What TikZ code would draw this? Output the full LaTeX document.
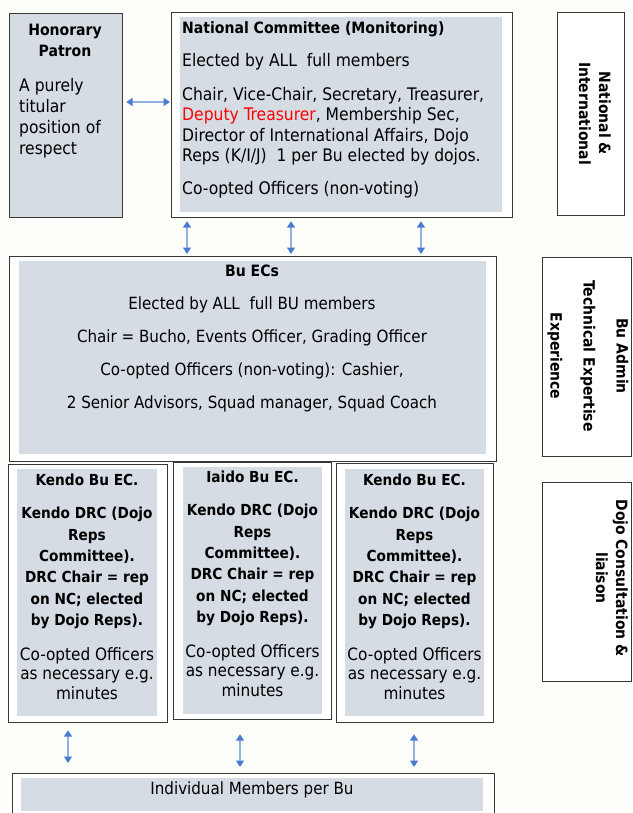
\documentclass[tikz,border=0pt]{standalone}
\usepackage{fontspec}
\setmainfont{DejaVu Sans Condensed}
\usetikzlibrary{arrows.meta}
\definecolor{boxgray}{HTML}{D5DCE4}
\definecolor{edgecol}{HTML}{383838}
\definecolor{arrowblue}{HTML}{4A7BD0}
\definecolor{pagebg}{HTML}{FDFDFA}
\tikzset{
  outerbox/.style={draw=edgecol, line width=1.2pt, fill=white, anchor=north west, inner sep=0pt, rectangle},
  grayfill/.style={fill=boxgray, draw=none, anchor=north west, inner sep=0pt, rectangle},
  txt/.style={inner sep=0pt, text=black, font=\fontsize{17.3}{20.6}\selectfont},
  boldtxt/.style={inner sep=0pt, text=black, font=\bfseries\fontsize{15.6}{21}\selectfont},
  kendotxt/.style={inner sep=0pt, text=black, align=center, anchor=north, font=\bfseries\fontsize{15.2}{21.4}\selectfont},
  kendosmall/.style={inner sep=0pt, text=black, align=center, anchor=north, font=\fontsize{17}{19.8}\selectfont},
  sidetxt/.style={inner sep=0pt, text=black, align=center, rotate=-90, font=\bfseries\fontsize{15.5}{20}\selectfont},
  biarrow/.style={draw=arrowblue!60, line width=1.5pt, {Triangle[width=8pt,length=6.5pt,color=arrowblue]}-{Triangle[width=8pt,length=6.5pt,color=arrowblue]}}
}
\begin{document}
\begin{tikzpicture}[x=1pt,y=-1pt]
\fill[pagebg] (0,0) rectangle (632,813);
\useasboundingbox (0,0) rectangle (632,813);

% ---------- boxes ----------
\node[outerbox, fill=boxgray, minimum width=113.5pt, minimum height=204pt] (patron) at (8.5,13) {};
\node[outerbox, minimum width=340.5pt, minimum height=205pt] (nc) at (171,12) {};
\node[grayfill, minimum width=322pt, minimum height=195pt] (ncfill) at (180,17) {};
\node[outerbox, minimum width=66.5pt, minimum height=203pt] (natint) at (557,12) {};

\node[outerbox, minimum width=487pt, minimum height=205pt] (buec) at (9,256) {};
\node[grayfill, minimum width=467pt, minimum height=193pt] (buecfill) at (19,261) {};
\node[outerbox, minimum width=88.5pt, minimum height=199pt] (buadmin) at (542,257) {};

\node[outerbox, minimum width=159pt, minimum height=258pt] (kendoA) at (8,464) {};
\node[grayfill, minimum width=140pt, minimum height=247pt] (kendoAfill) at (17,469) {};
\node[outerbox, minimum width=158pt, minimum height=257pt] (iaido) at (173,462) {};
\node[grayfill, minimum width=139pt, minimum height=247pt] (iaidofill) at (183,467) {};
\node[outerbox, minimum width=157pt, minimum height=259pt] (kendoB) at (336,463) {};
\node[grayfill, minimum width=139pt, minimum height=247pt] (kendoBfill) at (345,469) {};
\node[outerbox, minimum width=88.5pt, minimum height=199pt] (dojo) at (542,482) {};

\node[outerbox, minimum width=482pt, minimum height=45pt] (indiv) at (12,773) {};
\node[grayfill, minimum width=462pt, minimum height=33pt] (indivfill) at (21,778) {};

% ---------- texts ----------
\node[boldtxt, align=center, anchor=north] (patrontitle) at (65,24) {Honorary\\Patron};
\node[txt, align=left, anchor=north west, font=\fontsize{17.3}{21}\selectfont] (patronbody) at (19,78) {A purely\\titular\\position of\\respect};

\node[txt, align=left, anchor=north west] (nctext) at (182,21)
 {\textbf{\fontsize{15.6}{20.6}\selectfont National Committee (Monitoring)}\\[12.4pt]
  Elected by ALL\ \ full members\\[13.4pt]
  Chair, Vice-Chair, Secretary, Treasurer,\\
  \textcolor{red}{Deputy Treasurer}, Membership Sec,\\
  Director of International Affairs, Dojo\\
  Reps (K/I/J)\ \ 1 per Bu elected by dojos.\\[12.4pt]
  Co-opted Officers (non-voting)};

\node[sidetxt] (natinttext) at (595,113.5) {National \&\\International};

\node[txt, align=center, anchor=north, font=\fontsize{16.8}{33}\selectfont] (buectext) at (252,265)
 {\textbf{\fontsize{15.6}{33}\selectfont Bu ECs}\\
  Elected by ALL\ \ full BU members\\
  Chair = Bucho, Events Officer, Grading Officer\\
  Co-opted Officers (non-voting): Cashier,\\
  2 Senior Advisors, Squad manager, Squad Coach};

\node[sidetxt, font=\bfseries\fontsize{15.5}{33}\selectfont] (buadmintext) at (588,356) {Bu Admin\\Technical Expertise\\Experience};

\node[kendotxt] (kendoAtext) at (87,474)
 {Kendo Bu EC.\\[11.6pt] Kendo DRC (Dojo\\Reps\\Committee).\\DRC Chair = rep\\on NC; elected\\by Dojo Reps).};
\node[kendosmall] (kendoAsmall) at (87,647) {Co-opted Officers\\as necessary e.g.\\minutes};

\node[kendotxt] (iaidotext) at (252.5,471)
 {Iaido Bu EC.\\[11.6pt] Kendo DRC (Dojo\\Reps\\Committee).\\DRC Chair = rep\\on NC; elected\\by Dojo Reps).};
\node[kendosmall] (iaidosmall) at (252.5,644) {Co-opted Officers\\as necessary e.g.\\minutes};

\node[kendotxt] (kendoBtext) at (414.5,474)
 {Kendo Bu EC.\\[11.6pt] Kendo DRC (Dojo\\Reps\\Committee).\\DRC Chair = rep\\on NC; elected\\by Dojo Reps).};
\node[kendosmall] (kendoBsmall) at (414.5,647) {Co-opted Officers\\as necessary e.g.\\minutes};

\node[sidetxt] (dojotext) at (612,578) {Dojo Consultation \&\\liaison};

\node[txt, anchor=center, font=\fontsize{16.8}{20}\selectfont] (indivtext) at (252,790) {Individual Members per Bu};

% ---------- arrows ----------
\draw[biarrow, shorten <=3pt, shorten >=1pt] (patron.east |- 0,102) -- (nc.west |- 0,102);
\draw[biarrow, shorten <=3pt, shorten >=2pt] (nc.south -| 187,0) -- (buec.north -| 187,0);
\draw[biarrow, shorten <=3pt, shorten >=2pt] (nc.south -| 291,0) -- (buec.north -| 291,0);
\draw[biarrow, shorten <=3pt, shorten >=2pt] (nc.south -| 421,0) -- (buec.north -| 421,0);
\draw[biarrow, shorten <=7pt, shorten >=10pt] (kendoA.south -| 68,0) -- (indiv.north -| 68,0);
\draw[biarrow, shorten <=14pt, shorten >=6pt] (iaido.south -| 240,0) -- (indiv.north -| 240,0);
\draw[biarrow, shorten <=11pt, shorten >=6pt] (kendoB.south -| 414,0) -- (indiv.north -| 414,0);
\end{tikzpicture}
\end{document}
